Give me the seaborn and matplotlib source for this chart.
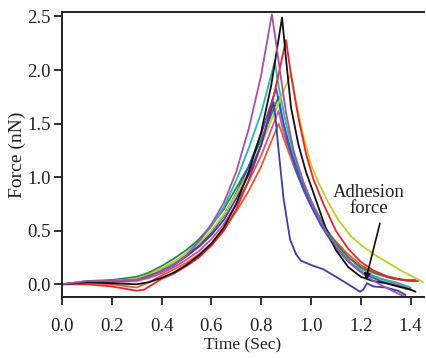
import numpy as np
import pandas as pd
import matplotlib
matplotlib.use("Agg")
import matplotlib.pyplot as plt
import seaborn as sns

# ---- data (time in s, force in nN) ----
purple_t = [0.0, 0.1, 0.2, 0.3, 0.35, 0.4, 0.45, 0.5, 0.55, 0.6, 0.65, 0.7, 0.75, 0.8, 0.843,
            0.86, 0.88, 0.9, 0.93, 0.97, 1.01, 1.06, 1.11, 1.17, 1.23, 1.3, 1.38]
purple_f = [0.0, 0.03, 0.03, 0.04, 0.07, 0.12, 0.18, 0.27, 0.4, 0.56, 0.76, 1.05, 1.45, 1.95, 2.52,
            2.25, 1.92, 1.6, 1.25, 0.95, 0.72, 0.5, 0.32, 0.17, 0.06, -0.03, -0.12]

black_t = [0.0, 0.1, 0.2, 0.3, 0.35, 0.4, 0.45, 0.5, 0.55, 0.6, 0.65, 0.7, 0.75, 0.8, 0.84, 0.884,
           0.9, 0.92, 0.95, 0.98, 1.0, 1.03, 1.06, 1.1, 1.15, 1.2, 1.25, 1.3, 1.35, 1.4, 1.42]
black_f = [0.0, 0.02, 0.01, 0.0, 0.02, 0.06, 0.11, 0.18, 0.27, 0.38, 0.53, 0.75, 1.05, 1.42, 1.85, 2.49,
           2.1, 1.65, 1.3, 1.05, 0.92, 0.72, 0.52, 0.32, 0.16, 0.07, 0.03, 0.01, -0.02, -0.05, -0.07]

red_t = [0.0, 0.1, 0.2, 0.3, 0.33, 0.4, 0.45, 0.5, 0.55, 0.6, 0.65, 0.7, 0.75, 0.8, 0.85, 0.9,
         0.92, 0.95, 0.98, 1.01, 1.05, 1.1, 1.15, 1.2, 1.25, 1.3, 1.35, 1.4, 1.43]
red_f = [0.0, 0.0, -0.02, -0.06, -0.05, 0.05, 0.1, 0.17, 0.25, 0.36, 0.5, 0.7, 0.97, 1.3, 1.75, 2.28,
         1.95, 1.55, 1.22, 0.98, 0.75, 0.5, 0.33, 0.21, 0.13, 0.08, 0.05, 0.03, 0.03]

yellow_t = [0.0, 0.1, 0.2, 0.3, 0.35, 0.4, 0.45, 0.5, 0.55, 0.6, 0.65, 0.7, 0.75, 0.8, 0.85, 0.92,
            0.94, 0.97, 1.0, 1.03, 1.07, 1.11, 1.16, 1.21, 1.26, 1.31, 1.36, 1.41, 1.45]
yellow_f = [0.0, 0.02, 0.03, 0.05, 0.09, 0.15, 0.21, 0.29, 0.38, 0.5, 0.65, 0.84, 1.05, 1.3, 1.58, 1.97,
            1.7, 1.38, 1.12, 0.95, 0.76, 0.6, 0.45, 0.35, 0.27, 0.2, 0.13, 0.07, 0.02]

cyan_t = [0.0, 0.1, 0.2, 0.3, 0.35, 0.4, 0.45, 0.5, 0.55, 0.6, 0.65, 0.7, 0.75, 0.8, 0.855,
          0.87, 0.9, 0.93, 0.97, 1.01, 1.06, 1.11, 1.16, 1.22, 1.28, 1.34, 1.4]
cyan_f = [0.0, 0.02, 0.03, 0.05, 0.09, 0.14, 0.2, 0.29, 0.4, 0.54, 0.72, 0.97, 1.27, 1.6, 2.08,
          1.85, 1.5, 1.22, 0.95, 0.73, 0.5, 0.33, 0.2, 0.1, 0.05, 0.02, -0.03]

navy_t = [0.0, 0.1, 0.2, 0.3, 0.35, 0.4, 0.45, 0.5, 0.55, 0.6, 0.65, 0.7, 0.75, 0.8, 0.85,
          0.86, 0.87, 0.89, 0.916, 0.94, 0.96, 1.0, 1.05, 1.1, 1.15, 1.197, 1.21, 1.225, 1.25, 1.3, 1.35, 1.38]
navy_f = [0.0, 0.02, 0.03, 0.04, 0.08, 0.12, 0.18, 0.26, 0.35, 0.46, 0.6, 0.8, 1.02, 1.3, 1.7,
          1.5, 1.25, 0.8, 0.42, 0.28, 0.22, 0.18, 0.14, 0.07, 0.0, -0.07, -0.05, 0.01, -0.02, -0.03, -0.06, -0.1]

green_t = [0.0, 0.1, 0.2, 0.3, 0.35, 0.4, 0.45, 0.5, 0.55, 0.6, 0.65, 0.7, 0.75, 0.8, 0.87,
           0.89, 0.92, 0.96, 1.0, 1.05, 1.1, 1.15, 1.2, 1.26, 1.32, 1.38, 1.42]
green_f = [0.0, 0.03, 0.04, 0.07, 0.11, 0.17, 0.24, 0.32, 0.42, 0.55, 0.7, 0.9, 1.1, 1.35, 1.75,
           1.5, 1.25, 0.98, 0.78, 0.56, 0.38, 0.25, 0.16, 0.1, 0.06, 0.04, 0.04]

orange_t = [0.0, 0.1, 0.2, 0.3, 0.35, 0.4, 0.45, 0.5, 0.55, 0.6, 0.65, 0.7, 0.75, 0.8, 0.87,
            0.9, 0.94, 0.98, 1.03, 1.08, 1.14, 1.2, 1.26, 1.33, 1.4]
orange_f = [0.0, 0.01, 0.0, -0.03, 0.02, 0.08, 0.14, 0.2, 0.28, 0.38, 0.51, 0.68, 0.87, 1.1, 1.5,
            1.3, 1.05, 0.85, 0.63, 0.45, 0.3, 0.18, 0.1, 0.05, 0.03]

royal_t = [0.0, 0.1, 0.2, 0.3, 0.35, 0.4, 0.45, 0.5, 0.55, 0.6, 0.65, 0.7, 0.75, 0.8, 0.86,
           0.88, 0.91, 0.95, 0.99, 1.04, 1.09, 1.15, 1.21, 1.28, 1.35, 1.4]
royal_f = [0.0, 0.02, 0.03, 0.04, 0.08, 0.13, 0.19, 0.27, 0.36, 0.48, 0.64, 0.85, 1.1, 1.4, 1.83,
           1.6, 1.3, 1.0, 0.78, 0.55, 0.37, 0.21, 0.1, 0.03, -0.02, -0.05]

pink_t = [0.0, 0.1, 0.2, 0.3, 0.35, 0.4, 0.45, 0.5, 0.55, 0.6, 0.65, 0.7, 0.75, 0.8, 0.87,
          0.89, 0.93, 0.97, 1.02, 1.07, 1.13, 1.19, 1.25, 1.32, 1.4]
pink_f = [0.0, 0.02, 0.02, 0.03, 0.06, 0.1, 0.16, 0.23, 0.31, 0.42, 0.56, 0.75, 0.96, 1.2, 1.62,
          1.42, 1.12, 0.88, 0.64, 0.46, 0.3, 0.17, 0.08, 0.02, -0.04]

curve_names = ["purple", "black", "red", "yellow", "cyan", "navy", "green", "orange", "royal", "pink"]
curve_t = [purple_t, black_t, red_t, yellow_t, cyan_t, navy_t, green_t, orange_t, royal_t, pink_t]
curve_f = [purple_f, black_f, red_f, yellow_f, cyan_f, navy_f, green_f, orange_f, royal_f, pink_f]
curve_colors = ["#a452a8", "#111111", "#e8262a", "#c9c92a", "#2fb5ad", "#3a3fa0",
                "#23894a", "#e85a2e", "#2a55c8", "#d2509a"]

x_ticks = [0.0, 0.2, 0.4, 0.6, 0.8, 1.0, 1.2, 1.4]
y_ticks = [0.0, 0.5, 1.0, 1.5, 2.0, 2.5]

rows = []
for name, ts, fs in zip(curve_names, curve_t, curve_f):
    for i, (t, f) in enumerate(zip(ts, fs)):
        rows.append({"curve": name, "order": i, "Time": t, "Force": f})
df = pd.DataFrame(rows)

sns.set_style("ticks")
plt.rcParams["font.family"] = ["Liberation Serif", "DejaVu Serif"]

fig = plt.figure(figsize=(4.27, 3.58), dpi=100)
ax = fig.add_axes([0.145, 0.170, 0.848, 0.796])

draw_order = ["orange", "pink", "green", "royal", "cyan", "yellow", "red", "navy", "black", "purple"]
palette = dict(zip(curve_names, curve_colors))
for name in draw_order:
    sub = df[df["curve"] == name]
    sns.lineplot(data=sub, x="Time", y="Force", color=palette[name], sort=False,
                 estimator=None, linewidth=1.3, ax=ax, legend=False)

ax.set_xlim(0, 1.454)
ax.set_ylim(-0.12, 2.54)
ax.set_xticks(x_ticks)
ax.set_xticklabels([f"{v:.1f}" for v in x_ticks])
ax.set_yticks(y_ticks)
ax.set_yticklabels([f"{v:.1f}" for v in y_ticks])
ax.tick_params(axis="both", direction="out", length=6, width=1.3, labelsize=13.5,
               colors="#222222")
ax.tick_params(axis="x", pad=9)
ax.tick_params(axis="y", pad=2)
ax.set_xlabel("Time (Sec)", fontsize=12.5, labelpad=2, color="#222222")
ax.set_ylabel("Force (nN)", fontsize=14, labelpad=1, color="#222222")
for side in ["left", "bottom", "top"]:
    ax.spines[side].set_linewidth(1.4)
    ax.spines[side].set_color("#222222")
ax.spines["right"].set_visible(False)

ax.text(1.233, 0.785, "Adhesion\nforce", ha="center", va="center", fontsize=13.5,
        color="#222222", linespacing=0.95)
ax.annotate("", xy=(1.22, 0.04), xytext=(1.277, 0.57),
            arrowprops=dict(arrowstyle="-|>", color="#111111", lw=1.2,
                            mutation_scale=9, shrinkA=0, shrinkB=0))

fig.savefig("out.png", dpi=100)
